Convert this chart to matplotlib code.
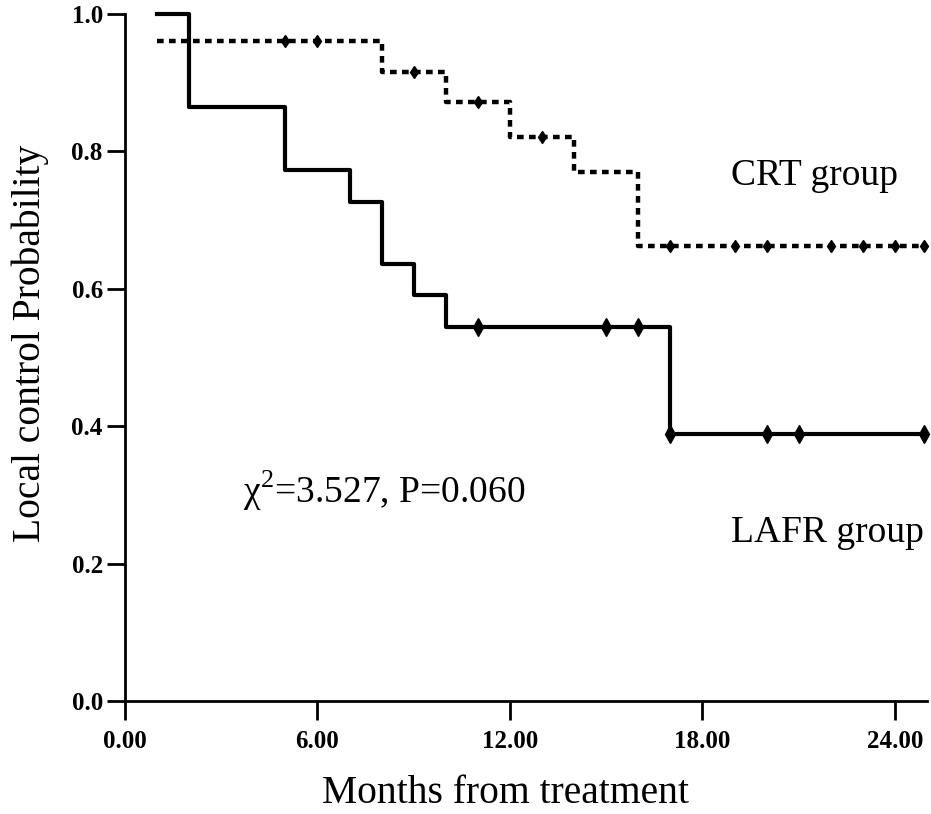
import numpy as np
from matplotlib import pyplot as plt

# data
lafr_times = [1, 2, 5, 7, 8, 9, 10, 17, 24.9]
lafr_surv = [1.0, 0.864, 0.773, 0.727, 0.636, 0.591, 0.545, 0.389, 0.389]
lafr_censor_t = [11, 15, 16, 17, 20, 21, 24.9]

crt_times = [1, 8, 10, 12, 14, 16, 24.9]
crt_surv = [0.96, 0.916, 0.872, 0.821, 0.770, 0.662, 0.662]
crt_censor_t = [5, 6, 9, 11, 13, 17, 19, 20, 22, 23, 24, 24.9]

x_ticks = [0, 6, 12, 18, 24]
y_ticks = [0.0, 0.2, 0.4, 0.6, 0.8, 1.0]

serif = ['Liberation Serif', 'DejaVu Serif']
plt.rcParams['font.family'] = serif
plt.rcParams['mathtext.fontset'] = 'custom'
plt.rcParams['mathtext.rm'] = 'Liberation Serif'


def surv_at(times, surv, t):
    # value of step function (post) at time t
    idx = np.searchsorted(times, t, side='right') - 1
    return np.array(surv)[idx]


fig = plt.figure(figsize=(9.31, 8.14), dpi=100)
ax = fig.add_axes([125 / 931, 1 - 701 / 814, 802 / 931, 687 / 814])

# curves
ax.step(lafr_times, lafr_surv, where='post', color='black', lw=3.0, clip_on=False)
ax.step(crt_times, crt_surv, where='post', color='black', lw=3.2,
        dashes=(1.5, 1.2), clip_on=False)

# censoring marks
ax.plot(lafr_censor_t, surv_at(lafr_times, lafr_surv, lafr_censor_t), ls='none',
        marker='d', ms=9, color='black', clip_on=False)
ax.plot(crt_censor_t, surv_at(crt_times, crt_surv, crt_censor_t), ls='none',
        marker='d', ms=6, color='black', clip_on=False)

ax.set_xlim(0, 25)
ax.set_ylim(0, 1.0)
ax.set_xticks(x_ticks)
ax.set_xticklabels([f'{t:.2f}' for t in x_ticks])
ax.set_yticks(y_ticks)
ax.set_yticklabels([f'{t:.1f}' for t in y_ticks])

for lab in ax.get_xticklabels() + ax.get_yticklabels():
    lab.set_fontweight('bold')
    lab.set_fontsize(18)

ax.tick_params(axis='x', length=14, width=2, pad=7)
ax.tick_params(axis='y', length=13, width=2, pad=3)

ax.spines['top'].set_visible(False)
ax.spines['right'].set_visible(False)
ax.spines['left'].set_linewidth(2)
ax.spines['bottom'].set_linewidth(2)

# axis titles
fig.text(505 / 931, 1 - 803 / 814, 'Months from treatment', fontsize=28.5,
         ha='center', va='baseline')
fig.text(40 / 931, 1 - 343 / 814, 'Local control Probability', fontsize=28.5,
         ha='center', va='baseline', rotation=90, rotation_mode='anchor')

# annotations
ax.text(18.9, 0.751, 'CRT group', fontsize=27, va='baseline')
ax.text(18.9, 0.231, 'LAFR group', fontsize=27, va='baseline')
ax.text(3.68, 0.288, 'χ$^{2}$=3.527, P=0.060', fontsize=27, va='baseline')

fig.savefig('out.png', dpi=100)
